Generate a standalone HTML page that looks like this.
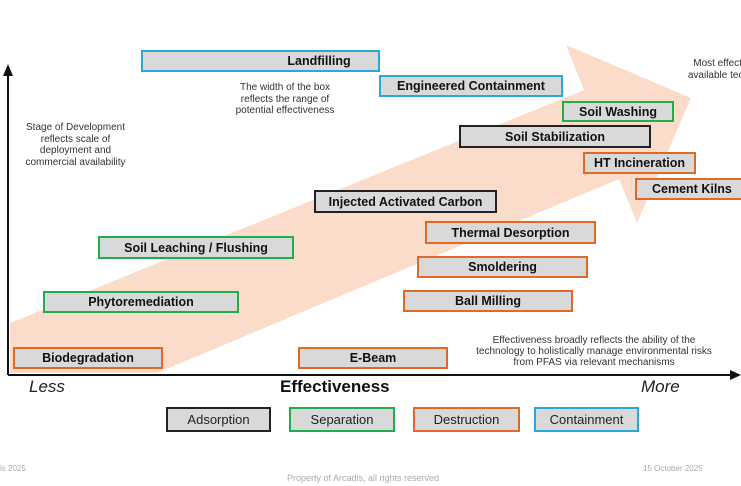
<!DOCTYPE html>
<html><head><style>
body{margin:0;width:741px;height:486px;background:#fff;position:relative;overflow:hidden;font-family:"Liberation Sans",Arial,sans-serif;}
.b{position:absolute;box-sizing:border-box;background:#d9d9d9;border:2.5px solid;font-weight:bold;font-size:12.5px;color:#111;display:flex;align-items:center;justify-content:center;white-space:nowrap;}
.lg{position:absolute;box-sizing:border-box;background:#d9d9d9;border:2.5px solid;font-size:13px;color:#222;display:flex;align-items:center;justify-content:center;}
.bl{border-color:#29a8e0}.g{border-color:#1fae4b}.k{border-color:#222}.o{border-color:#e06a25}
.t{position:absolute;font-size:10px;color:#333;text-align:center;line-height:11.5px;}
</style></head><body>
<svg width="741" height="486" style="position:absolute;left:0;top:0">
<polygon points="10,323 584,90 566,45 691,98 637,223 619,179 157,373 10,373" fill="#fbdccb"/>
<line x1="8" y1="375" x2="8" y2="74" stroke="#111" stroke-width="2"/>
<polygon points="3,76 8,64 13,76" fill="#111"/>
<line x1="8" y1="375" x2="732" y2="375" stroke="#111" stroke-width="2"/>
<polygon points="730,370 741,375 730,380" fill="#111"/>
</svg>
<div class="b bl" style="left:141px;top:50px;width:239px;height:22px;padding-left:117px">Landfilling</div>
<div class="b bl" style="left:379px;top:75px;width:184px;height:22px">Engineered Containment</div>
<div class="b g" style="left:562px;top:101px;width:112px;height:21px">Soil Washing</div>
<div class="b k" style="left:459px;top:125px;width:192px;height:23px">Soil Stabilization</div>
<div class="b o" style="left:583px;top:152px;width:113px;height:22px">HT Incineration</div>
<div class="b o" style="left:635px;top:178px;width:115px;height:22px;justify-content:flex-start;padding-left:15px">Cement Kilns</div>
<div class="b k" style="left:314px;top:190px;width:183px;height:23px">Injected Activated Carbon</div>
<div class="b o" style="left:425px;top:221px;width:171px;height:23px">Thermal Desorption</div>
<div class="b o" style="left:417px;top:256px;width:171px;height:22px">Smoldering</div>
<div class="b o" style="left:403px;top:290px;width:170px;height:22px">Ball Milling</div>
<div class="b g" style="left:98px;top:236px;width:196px;height:23px">Soil Leaching / Flushing</div>
<div class="b g" style="left:43px;top:291px;width:196px;height:22px">Phytoremediation</div>
<div class="b o" style="left:13px;top:347px;width:150px;height:22px">Biodegradation</div>
<div class="b o" style="left:298px;top:347px;width:150px;height:22px">E-Beam</div>
<div class="t" style="left:220px;top:82px;width:130px">The width of the box<br>reflects the range of<br>potential effectiveness</div>
<div class="t" style="left:18px;top:122px;width:115px">Stage of Development<br>reflects scale of<br>deployment and<br>commercial availability</div>
<div class="t" style="left:664px;top:58px;width:120px">Most effective<br>available techno</div>
<div class="t" style="left:460px;top:335px;width:268px;line-height:11px">Effectiveness broadly reflects the ability of the<br>technology to holistically manage environmental risks<br>from PFAS via relevant mechanisms</div>
<div style="position:absolute;left:29px;top:377px;font-size:17px;font-style:italic;color:#222">Less</div>
<div style="position:absolute;left:280px;top:377px;font-size:17px;font-weight:bold;color:#111">Effectiveness</div>
<div style="position:absolute;left:641px;top:377px;font-size:17px;font-style:italic;color:#222">More</div>
<div class="lg k" style="left:166px;top:407px;width:105px;height:25px">Adsorption</div>
<div class="lg g" style="left:289px;top:407px;width:106px;height:25px">Separation</div>
<div class="lg o" style="left:413px;top:407px;width:107px;height:25px">Destruction</div>
<div class="lg bl" style="left:534px;top:407px;width:105px;height:25px">Containment</div>
<div style="position:absolute;left:0;top:464px;font-size:8px;color:#aaa">ls 2025</div>
<div style="position:absolute;left:287px;top:473px;font-size:9px;color:#aaa">Property of Arcadis, all rights reserved</div>
<div style="position:absolute;left:643px;top:464px;font-size:8px;color:#aaa">15 October 2025</div>
</body></html>
